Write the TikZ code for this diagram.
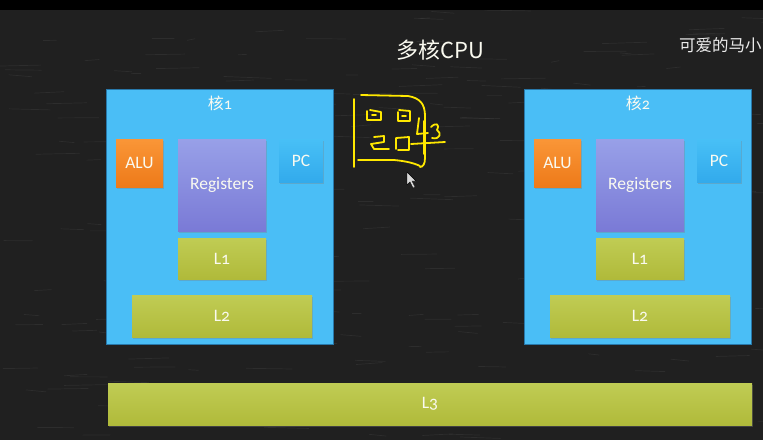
\documentclass[tikz,border=0pt]{standalone}
\usepackage{fontspec}
\setmainfont{Carlito}[Numbers=OldStyle]
\newfontfamily\cjk{Noto Sans CJK SC}
\usetikzlibrary{shadows}

\definecolor{board}{RGB}{32,32,32}
\definecolor{corebg}{RGB}{74,190,246}
\definecolor{coreedge}{RGB}{40,120,170}
\definecolor{alutop}{RGB}{250,150,55}
\definecolor{alubot}{RGB}{238,122,25}
\definecolor{regtop}{RGB}{152,160,232}
\definecolor{regbot}{RGB}{122,122,214}
\definecolor{pctop}{RGB}{72,192,246}
\definecolor{pcbot}{RGB}{50,170,236}
\definecolor{cachetop}{RGB}{192,204,84}
\definecolor{cachebot}{RGB}{176,186,58}
\definecolor{chalk}{RGB}{255,232,0}
\definecolor{label}{RGB}{250,250,240}

\tikzset{
  unit/.style={draw=none, inner sep=0pt, text=label, font=\fontsize{17.5}{20}\selectfont,
    drop shadow={shadow xshift=1pt, shadow yshift=-1.5pt, opacity=0.35}},
  corebox/.style={fill=corebg, draw=coreedge, line width=0.6pt},
  alubox/.style={unit, top color=alutop, bottom color=alubot},
  regbox/.style={unit, top color=regtop, bottom color=regbot},
  pcbox/.style={unit, top color=pctop, bottom color=pcbot},
  cachebox/.style={unit, top color=cachetop, bottom color=cachebot},
  coretitle/.style={text=label, font=\cjk\fontsize{16}{18}\selectfont},
  scribble/.style={draw=chalk, line width=1.8pt, line cap=round, line join=round},
}

% box by corners (x1,y1)-(x2,y2), y measured downwards
\newcommand{\blockat}[7]{%
  \node[#6, minimum width={(#4)-(#2)}, minimum height={(#5)-(#3)}]
    (#1) at ({((#2)+(#4))/2},{((#3)+(#5))/2}) {#7};}

\begin{document}
\begin{tikzpicture}[x=1pt,y=-1pt]
  \useasboundingbox (0,0) rectangle (763,440);
  % chalkboard
  \fill[board] (0,0) rectangle (763,440);
  \fill[black] (0,0) rectangle (763,10);
  \begin{scope}
    \clip (0,10) rectangle (763,440);
    \pgfmathsetseed{7}
    \foreach \i in {1,...,220}{
      \pgfmathsetmacro{\px}{rnd*763}
      \pgfmathsetmacro{\py}{10+rnd*430}
      \pgfmathsetmacro{\ln}{8+rnd*40}
      \draw[white, opacity=0.06, line width=0.7pt] (\px,\py) -- ++(\ln,{rnd*4-2});
    }
  \end{scope}

  % headings
  \node[text=label, font=\cjk\fontsize{22}{24}\selectfont] (title) at (440,50) {多核CPU};
  \begin{scope}
    \clip (0,0) rectangle (763,440);
    \node[anchor=west, text=white!92!black, font=\cjk\fontsize{16.5}{18}\selectfont, inner sep=0pt]
      (author) at (679,45) {可爱的马小};
  \end{scope}

  % core 1
  \blockat{core1}{106}{89}{333}{344}{corebox}{}
  \node[coretitle] (core1t) at (220,103) {核\fontspec{Carlito}[Numbers=OldStyle]1};
  \blockat{alu1}{116}{139}{163}{187}{alubox}{ALU}
  \blockat{reg1}{178}{139}{266}{231}{regbox}{Registers}
  \blockat{pc1}{279}{139}{323}{182}{pcbox}{PC}
  \blockat{lone1}{178}{238}{266}{279}{cachebox}{L1}
  \blockat{ltwo1}{132}{295}{312}{337}{cachebox}{L2}

  % core 2
  \blockat{core2}{524}{89}{751}{344}{corebox}{}
  \node[coretitle] (core2t) at (638,103) {核\fontspec{Carlito}[Numbers=OldStyle]2};
  \blockat{alu2}{534}{139}{581}{187}{alubox}{ALU}
  \blockat{reg2}{596}{139}{684}{231}{regbox}{Registers}
  \blockat{pc2}{697}{139}{741}{182}{pcbox}{PC}
  \blockat{lone2}{596}{238}{684}{279}{cachebox}{L1}
  \blockat{ltwo2}{550}{295}{730}{337}{cachebox}{L2}

  % shared cache
  \blockat{lthree}{108}{383}{752}{425}{cachebox}{L3}

  % hand sketch of a chip
  \draw[scribble] (354,99) -- (354,167);
  \draw[scribble] (361,95) -- (408,96) .. controls (420,98) and (425,104) .. (425,116)
    -- (425,158) .. controls (425,164) and (423,167) .. (420,167);
  \draw[scribble] (358,160) -- (394,160) .. controls (405,161) and (414,163) .. (420,166);
  \draw[scribble] (367,111) -- (367,120) -- (381,120) -- (381,112) -- (370,110);
  \draw[scribble] (372,115) -- (376,115);
  \draw[scribble] (398,112) -- (398,121) -- (410,121) -- (410,111) -- (399,110);
  \draw[scribble] (402,116) -- (406,116);
  \draw[scribble] (374,137) -- (384,136) -- (384,142) -- (371,144) -- (374,149) -- (389,149);
  \draw[scribble] (396,149) -- (396,138) -- (409,137) -- (409,150) -- (398,150);
  \draw[scribble] (419,118) -- (417,134) -- (428,133);
  \draw[scribble] (424,121) -- (424,154);
  \draw[scribble] (431,127) .. controls (436,122) and (440,124) .. (437,130)
    .. controls (442,133) and (440,140) .. (432,138);
  \draw[scribble] (411,144) -- (445,142);

  % mouse pointer
  \fill[white!85!black, draw=black, line width=0.4pt]
    (407,172) -- (407,185) -- (410,182) -- (413,188) -- (415,187) -- (412,181) -- (416,181) -- cycle;
\end{tikzpicture}
\end{document}
